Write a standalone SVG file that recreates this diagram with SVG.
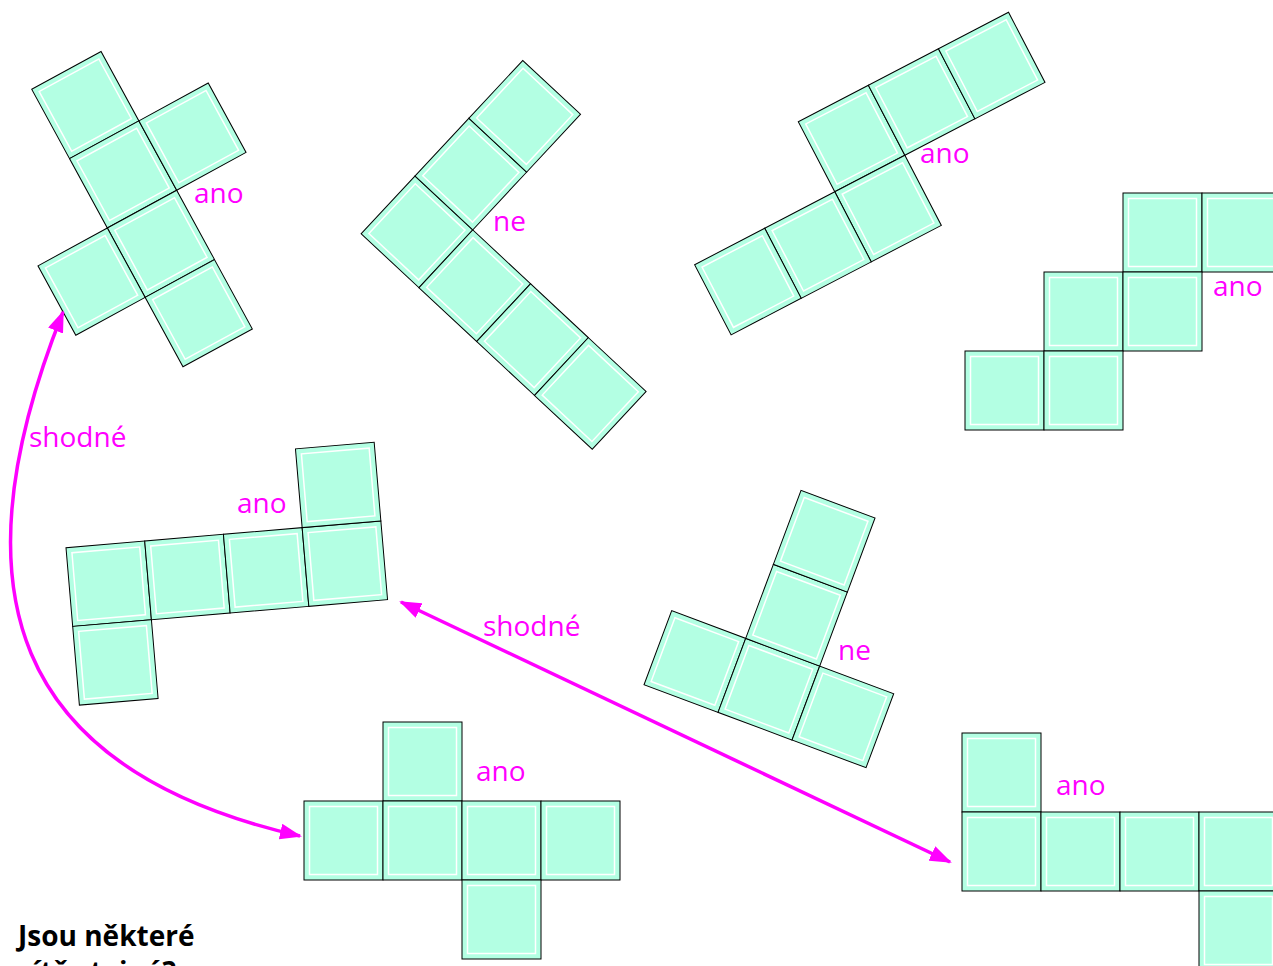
<svg xmlns="http://www.w3.org/2000/svg" width="1273" height="966" viewBox="0 0 1273 966">
<style>
.lbl{font-family:"Open Sans","Noto Sans",sans-serif;font-size:28px;fill:#ff00ff}
.q{font-family:"Open Sans","Noto Sans",sans-serif;font-size:28px;font-weight:bold;fill:#000}
.conn{fill:none;stroke:#ff00ff;stroke-width:3.5}
</style>
<defs>
<g id="sq"><rect width="79" height="79" fill="#b3ffe3" stroke="#000" stroke-width="1"/><rect x="5.5" y="5.5" width="68" height="68" fill="none" stroke="#fff" stroke-width="1.5"/></g>
<marker id="ah" viewBox="0 0 22 16" refX="20" refY="8" markerUnits="userSpaceOnUse" markerWidth="22" markerHeight="16" orient="auto-start-reverse"><path d="M0,0 L22,8 L0,16 z" fill="#ff00ff"/></marker>
</defs>
<rect width="1273" height="966" fill="#fff"/>

<g id="net-cross">
<g transform="translate(31.7,89.3) rotate(-28.6)">
<use href="#sq" x="0" y="0"/><use href="#sq" x="0" y="79"/><use href="#sq" x="79" y="79"/><use href="#sq" x="0" y="158"/><use href="#sq" x="-79" y="158"/><use href="#sq" x="0" y="237"/>
</g>
<text class="lbl" x="194" y="203">ano</text>
</g>

<g id="net-L">
<g transform="translate(415,176) rotate(43)">
<use href="#sq" x="0" y="0"/><use href="#sq" x="79" y="0"/><use href="#sq" x="158" y="0"/><use href="#sq" x="237" y="0"/><use href="#sq" x="0" y="-79"/><use href="#sq" x="0" y="-158"/>
</g>
<text class="lbl" x="493" y="231">ne</text>
</g>

<g id="net-topright-rot">
<g transform="translate(798.3,121.7) rotate(-27.5)">
<use href="#sq" x="0" y="0"/><use href="#sq" x="79" y="0"/><use href="#sq" x="158" y="0"/><use href="#sq" x="0" y="79"/><use href="#sq" x="-79" y="79"/><use href="#sq" x="-158" y="79"/>
</g>
<text class="lbl" x="920" y="163">ano</text>
</g>

<g id="net-stairs">
<use href="#sq" x="1123" y="193"/><use href="#sq" x="1202" y="193"/><use href="#sq" x="1044" y="272"/><use href="#sq" x="1123" y="272"/><use href="#sq" x="965" y="351"/><use href="#sq" x="1044" y="351"/>
<text class="lbl" x="1213" y="296">ano</text>
</g>

<g id="net-midleft">
<g transform="translate(66,547.7) rotate(-4.86)">
<use href="#sq" x="0" y="0"/><use href="#sq" x="79" y="0"/><use href="#sq" x="158" y="0"/><use href="#sq" x="237" y="0"/><use href="#sq" x="237" y="-79"/><use href="#sq" x="0" y="79"/>
</g>
<text class="lbl" x="237" y="513">ano</text>
</g>

<g id="net-T">
<g transform="translate(671.7,610.7) rotate(20.5)">
<use href="#sq" x="0" y="0"/><use href="#sq" x="79" y="0"/><use href="#sq" x="158" y="0"/><use href="#sq" x="79" y="-79"/><use href="#sq" x="79" y="-158"/>
</g>
<text class="lbl" x="838" y="660">ne</text>
</g>

<g id="net-bottom">
<use href="#sq" x="383" y="722"/><use href="#sq" x="304" y="801"/><use href="#sq" x="383" y="801"/><use href="#sq" x="462" y="801"/><use href="#sq" x="541" y="801"/><use href="#sq" x="462" y="880"/>
<text class="lbl" x="476" y="781">ano</text>
</g>

<g id="net-bottomright">
<use href="#sq" x="962" y="733"/><use href="#sq" x="962" y="812"/><use href="#sq" x="1041" y="812"/><use href="#sq" x="1120" y="812"/><use href="#sq" x="1199" y="812"/><use href="#sq" x="1199" y="891"/>
<text class="lbl" x="1056" y="795">ano</text>
</g>

<g id="connectors">
<path class="conn" d="M63,312 C-48,590 10,770 300,836" marker-start="url(#ah)" marker-end="url(#ah)"/>
<text class="lbl" x="29" y="447">shodné</text>
<path class="conn" d="M401,602 L950,862" marker-start="url(#ah)" marker-end="url(#ah)"/>
<text class="lbl" x="483" y="636">shodné</text>
</g>

<g id="question">
<text class="q" x="18" y="946">Jsou některé</text>
<text class="q" x="18" y="982">sítě stejné?</text>
</g>
</svg>
